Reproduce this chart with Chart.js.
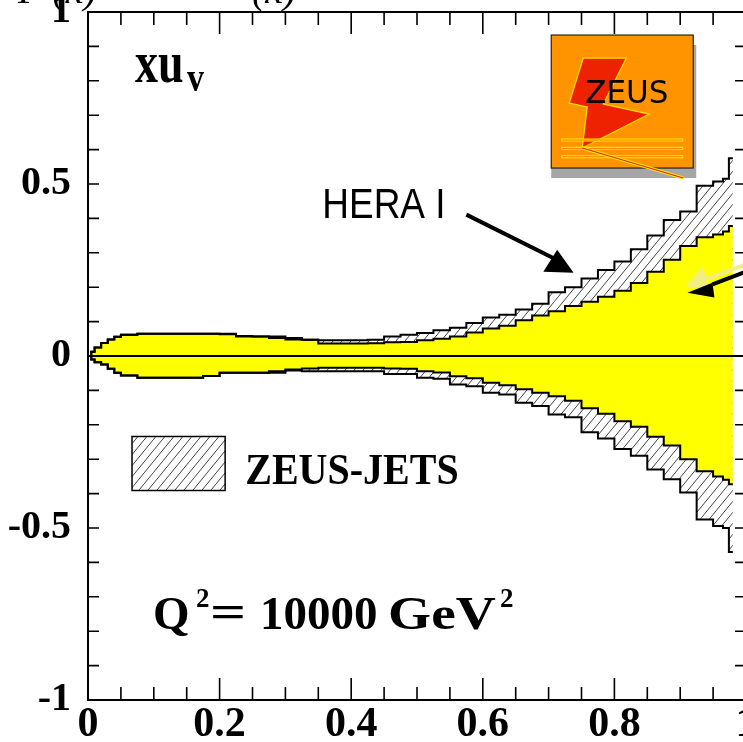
<!DOCTYPE html>
<html>
<head>
<meta charset="utf-8">
<script src="https://cdn.jsdelivr.net/npm/chart.js@4/dist/chart.umd.min.js"></script>
<style>
  html, body { margin: 0; padding: 0; background: #fff; overflow: hidden; }
  #wrap { position: relative; width: 790px; height: 742px; }
</style>
</head>
<body>
<div id="wrap"><canvas id="c"></canvas></div>
<script>
// x bin edges (left edge of each step; last entry closes the final step)
const xBins = [0, 0.005, 0.01, 0.02, 0.03, 0.04, 0.05, 0.075, 0.1, 0.125, 0.15, 0.175,
  0.2, 0.225, 0.25, 0.275, 0.3, 0.325, 0.35, 0.375, 0.4, 0.425, 0.45, 0.475, 0.5,
  0.525, 0.55, 0.575, 0.6, 0.625, 0.65, 0.675, 0.7, 0.725, 0.75, 0.775, 0.8, 0.825,
  0.85, 0.875, 0.9, 0.925, 0.95, 0.965, 0.974, 0.98];

// HERA I uncertainty band on x*u_v (upper / lower edge)
const heraUp = [0, 0.012, 0.025, 0.038, 0.048, 0.056, 0.062, 0.065, 0.065, 0.065, 0.065, 0.065,
  0.063, 0.057, 0.057, 0.052, 0.048, 0.047, 0.036, 0.036, 0.036, 0.037, 0.040, 0.041, 0.046,
  0.050, 0.057, 0.068, 0.080, 0.088, 0.104, 0.118, 0.130, 0.145, 0.158, 0.172, 0.190, 0.212,
  0.245, 0.280, 0.320, 0.345, 0.353, 0.362, 0.378, 0.378];
const heraDown = [0, -0.010, -0.018, -0.025, -0.037, -0.049, -0.057, -0.063, -0.063, -0.063, -0.063, -0.058,
  -0.049, -0.049, -0.049, -0.044, -0.039, -0.036, -0.034, -0.034, -0.034, -0.034, -0.036, -0.037, -0.044,
  -0.048, -0.059, -0.065, -0.078, -0.085, -0.097, -0.107, -0.117, -0.130, -0.152, -0.168, -0.190, -0.206,
  -0.235, -0.260, -0.300, -0.335, -0.350, -0.360, -0.373, -0.373];

// ZEUS-JETS uncertainty band (upper / lower edge)
const jetsUp = [0, 0.012, 0.025, 0.038, 0.048, 0.056, 0.062, 0.065, 0.065, 0.065, 0.065, 0.065,
  0.065, 0.058, 0.057, 0.057, 0.052, 0.047, 0.046, 0.046, 0.046, 0.047, 0.057, 0.062, 0.067,
  0.075, 0.082, 0.096, 0.112, 0.120, 0.135, 0.152, 0.185, 0.200, 0.225, 0.250, 0.275, 0.310,
  0.350, 0.395, 0.420, 0.495, 0.507, 0.515, 0.575, 0.575];
const jetsDown = [0, -0.010, -0.018, -0.025, -0.037, -0.049, -0.057, -0.063, -0.063, -0.063, -0.063, -0.058,
  -0.049, -0.049, -0.049, -0.049, -0.042, -0.044, -0.044, -0.044, -0.044, -0.044, -0.052, -0.052, -0.063,
  -0.066, -0.083, -0.088, -0.107, -0.112, -0.136, -0.145, -0.170, -0.178, -0.222, -0.240, -0.270, -0.290,
  -0.330, -0.358, -0.397, -0.475, -0.494, -0.500, -0.570, -0.570];

// zero reference line
const zeroX = [0, 1];
const zeroY = [0, 0];

// labelled axis ticks
const xTicks = [0, 0.2, 0.4, 0.6, 0.8, 1];
const yTicks = [-1, -0.5, 0, 0.5, 1];

const pts = (xs, ys) => xs.map((x, i) => ({ x: x, y: ys[i] }));

function makeHatch() {
  const w = 9, h = 11;
  const c = document.createElement('canvas');
  c.width = w; c.height = h;
  const g = c.getContext('2d');
  g.fillStyle = '#ffffff';
  g.fillRect(0, 0, w, h);
  g.strokeStyle = '#444';
  g.lineWidth = 1;
  g.beginPath();
  g.moveTo(0, h); g.lineTo(w, 0);
  g.moveTo(-w, h); g.lineTo(0, 0);
  g.moveTo(w, h * 2); g.lineTo(w * 2, h);
  g.stroke();
  return g.createPattern(c, 'repeat');
}
const hatch = makeHatch();

const SERIF = '"Liberation Serif", "Times New Roman", serif';
const SANS = '"Liberation Sans", Arial, sans-serif';

function text(ctx, str, x, y, font, sy, sx, align) {
  ctx.save();
  ctx.translate(x, y);
  ctx.scale(sx || 1, sy || 1);
  ctx.font = font;
  ctx.textAlign = align || 'left';
  ctx.textBaseline = 'alphabetic';
  ctx.fillStyle = '#000';
  ctx.fillText(str, 0, 0);
  ctx.restore();
}

function poly(ctx, p, fill) {
  ctx.beginPath();
  ctx.moveTo(p[0][0], p[0][1]);
  for (let i = 1; i < p.length; i++) ctx.lineTo(p[i][0], p[i][1]);
  ctx.closePath();
  ctx.fillStyle = fill;
  ctx.fill();
}

// frame, inward ticks, labels, arrows and logo
const decor = {
  id: 'decor',
  afterDraw(chart) {
    const ctx = chart.ctx;
    const xs = chart.scales.x, ys = chart.scales.y;
    const a = chart.chartArea;
    const P = (x, y) => [xs.getPixelForValue(x), ys.getPixelForValue(y)];

    ctx.save();
    // frame
    ctx.strokeStyle = '#000';
    ctx.lineWidth = 2;
    ctx.strokeRect(a.left, a.top, a.right - a.left, a.bottom - a.top);

    // inward tick marks
    ctx.lineWidth = 1.6;
    ctx.beginPath();
    for (let i = 0; i <= 20; i++) {
      const v = i * 0.05;
      const p = xs.getPixelForValue(v);
      const len = (i % 4 === 0) ? 22 : 13;
      ctx.moveTo(p, a.bottom); ctx.lineTo(p, a.bottom - len);
      ctx.moveTo(p, a.top); ctx.lineTo(p, a.top + len);
    }
    for (let i = -10; i <= 10; i++) {
      const p = ys.getPixelForValue(i * 0.1);
      ctx.moveTo(a.left, p); ctx.lineTo(a.left + 11, p);
      ctx.moveTo(a.right, p); ctx.lineTo(a.right - 11, p);
    }
    ctx.stroke();

    // panel label x u_v
    let q = P(0.0715, 0.797);
    text(ctx, 'xu', q[0], q[1], 'bold 46px ' + SERIF, 1.3);
    text(ctx, 'v', q[0] + 52, q[1] + 9, 'bold 34px ' + SERIF, 1.15);

    // legend entry
    const b0 = P(0.0669, -0.234), b1 = P(0.2084, -0.391);
    ctx.fillStyle = hatch;
    ctx.fillRect(b0[0], b0[1], b1[0] - b0[0], b1[1] - b0[1]);
    ctx.lineWidth = 1.5;
    ctx.strokeStyle = '#000';
    ctx.strokeRect(b0[0], b0[1], b1[0] - b0[0], b1[1] - b0[1]);
    q = P(0.239, -0.373);
    text(ctx, 'ZEUS-JETS', q[0], q[1], 'bold 40px ' + SERIF, 1.12);

    // scale label
    q = P(0.0989, -0.794);
    text(ctx, 'Q', q[0], q[1], 'bold 47px ' + SERIF);
    text(ctx, '2', q[0] + 43, q[1] - 22, 'bold 27px ' + SERIF);
    text(ctx, '=', q[0] + 57, q[1] - 2, 'bold 47px ' + SERIF, 1, 1.35);
    text(ctx, '10000', q[0] + 107, q[1], 'bold 47px ' + SERIF);
    text(ctx, 'GeV', q[0] + 235, q[1], 'bold 47px ' + SERIF, 1, 1.18);
    text(ctx, '2', q[0] + 347, q[1] - 22, 'bold 27px ' + SERIF);

    // HERA I label with arrow
    q = P(0.356, 0.402);
    text(ctx, 'HERA I', q[0], q[1], '37px ' + SANS, 1.13);
    ctx.strokeStyle = '#000';
    ctx.lineWidth = 4;
    ctx.beginPath();
    let s = P(0.575, 0.411), e = P(0.710, 0.282);
    ctx.moveTo(s[0], s[1]); ctx.lineTo(e[0], e[1]);
    ctx.stroke();
    poly(ctx, [P(0.692, 0.245), P(0.713, 0.309), P(0.738, 0.242)], '#000');

    // second arrow (pale copy behind, black in front)
    ctx.strokeStyle = '#f0ee84';
    ctx.lineWidth = 4;
    ctx.beginPath();
    s = P(1.0, 0.266); e = P(0.94, 0.224);
    ctx.moveTo(s[0], s[1]); ctx.lineTo(e[0], e[1]);
    ctx.stroke();
    poly(ctx, [P(0.908, 0.202), P(0.935, 0.26), P(0.943, 0.199)], '#f0ee84');
    ctx.strokeStyle = '#000';
    ctx.beginPath();
    s = P(1.0, 0.245); e = P(0.949, 0.208);
    ctx.moveTo(s[0], s[1]); ctx.lineTo(e[0], e[1]);
    ctx.stroke();
    poly(ctx, [P(0.911, 0.184), P(0.949, 0.213), P(0.952, 0.170)], '#000');

    // ZEUS logo
    const o = P(0.704, 0.933);
    const ox = o[0], oy = o[1];
    ctx.fillStyle = '#a6a6a6';
    ctx.fillRect(ox, oy + 10, 145, 133);
    ctx.fillStyle = '#ff9400';
    ctx.fillRect(ox, oy, 142, 133);
    ctx.strokeStyle = '#222';
    ctx.lineWidth = 1.2;
    ctx.strokeRect(ox, oy, 142, 133);
    const bolt = [[32, 23], [75, 23], [52, 69], [98, 79], [31, 113], [36, 72], [18, 68]]
      .map(p => [ox + p[0], oy + p[1]]);
    ctx.beginPath();
    ctx.moveTo(bolt[0][0], bolt[0][1]);
    for (let i = 1; i < bolt.length; i++) ctx.lineTo(bolt[i][0], bolt[i][1]);
    ctx.closePath();
    ctx.fillStyle = '#ee2200';
    ctx.fill();
    ctx.strokeStyle = '#ffdd00';
    ctx.lineWidth = 1.2;
    ctx.stroke();
    text(ctx, 'ZEUS', ox + 34, oy + 68, '31px "DejaVu Sans", sans-serif', 1.05);
    [105, 113.3, 121.7].forEach(yy => {
      ctx.strokeStyle = '#ffee00';
      ctx.lineWidth = 3;
      ctx.beginPath(); ctx.moveTo(ox + 10, oy + yy); ctx.lineTo(ox + 132, oy + yy); ctx.stroke();
      ctx.strokeStyle = '#ff7000';
      ctx.lineWidth = 1;
      ctx.beginPath(); ctx.moveTo(ox + 11, oy + yy); ctx.lineTo(ox + 131, oy + yy); ctx.stroke();
    });
    ctx.strokeStyle = '#ffee00';
    ctx.lineWidth = 3;
    ctx.beginPath(); ctx.moveTo(ox + 31, oy + 113); ctx.lineTo(ox + 132, oy + 143); ctx.stroke();
    ctx.strokeStyle = '#e02000';
    ctx.lineWidth = 1.2;
    ctx.beginPath(); ctx.moveTo(ox + 31, oy + 113); ctx.lineTo(ox + 132, oy + 143); ctx.stroke();

    // tail of the axis title of the panel above
    text(ctx, 'F (x)', 18, 3, 'italic 40px ' + SERIF);
    text(ctx, '(x)', 252, 3, 'italic 40px ' + SERIF);
    ctx.restore();
  }
};

const bandLine = {
  borderColor: '#000',
  borderWidth: 2,
  pointRadius: 0,
  stepped: true,
  tension: 0
};

new Chart(document.getElementById('c'), {
  type: 'line',
  data: {
    datasets: [
      { label: 'zero', data: pts(zeroX, zeroY), borderColor: '#000', borderWidth: 2, pointRadius: 0, fill: false },
      Object.assign({ label: 'HERA I', data: pts(xBins, heraUp), fill: '+1', backgroundColor: '#ffff00' }, bandLine),
      Object.assign({ label: 'HERA I low', data: pts(xBins, heraDown), fill: false }, bandLine),
      Object.assign({ label: 'ZEUS-JETS', data: pts(xBins, jetsUp), fill: '+1', backgroundColor: hatch }, bandLine),
      Object.assign({ label: 'ZEUS-JETS low', data: pts(xBins, jetsDown), fill: false }, bandLine)
    ]
  },
  options: {
    responsive: true,
    maintainAspectRatio: false,
    animation: false,
    devicePixelRatio: 1,
    layout: { padding: { top: 12, right: 44, bottom: 0, left: 0 } },
    plugins: {
      legend: { display: false },
      tooltip: { enabled: false },
      filler: { drawTime: 'beforeDatasetsDraw' }
    },
    scales: {
      x: {
        type: 'linear', min: 0, max: 1,
        grid: { display: false, drawTicks: false },
        border: { display: false },
        afterBuildTicks: s => { s.ticks = xTicks.map(v => ({ value: v })); },
        afterFit: s => { s.height = 42; s.paddingLeft = 0; s.paddingRight = 0; },
        ticks: {
          padding: 0, color: '#000', maxRotation: 0, autoSkip: false,
          font: { family: SERIF, size: 42, weight: 'bold' },
          callback: v => String(v)
        }
      },
      y: {
        type: 'linear', min: -1, max: 1,
        grid: { display: false, drawTicks: false },
        border: { display: false },
        afterBuildTicks: s => { s.ticks = yTicks.map(v => ({ value: v })); },
        afterFit: s => { s.width = 88; s.paddingTop = 0; s.paddingBottom = 0; },
        ticks: {
          padding: 17, color: '#000', autoSkip: false,
          font: { family: SERIF, size: 40, weight: 'bold' },
          callback: v => String(v)
        }
      }
    }
  },
  plugins: [decor]
});
</script>
</body>
</html>
